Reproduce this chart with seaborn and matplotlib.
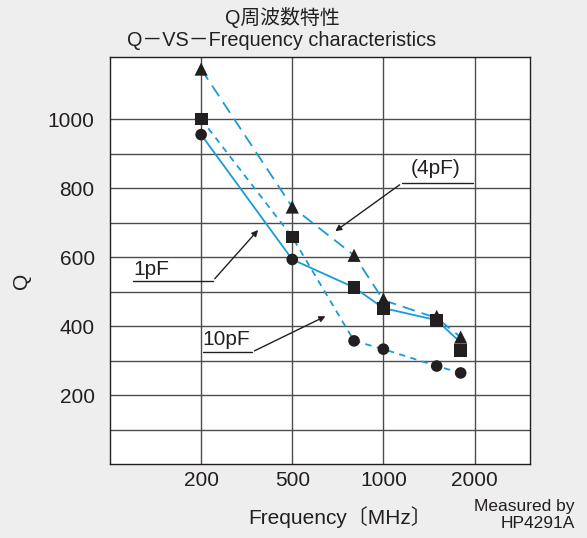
import numpy as np
import matplotlib
matplotlib.use("Agg")
import matplotlib.pyplot as plt
import seaborn as sns

sns.set_theme(style="white")
plt.rcParams['font.family'] = ['Liberation Sans', 'Noto Sans CJK JP', 'DejaVu Sans']

# data
freq = [200, 500, 800, 1000, 1500, 1800]
q_1pf = [955, 593, 512, 452, 417, 352]      # solid line
q_4pf = [1145, 745, 605, 475, 423, 368]     # long dashes
q_10pf = [1000, 658, 357, 333, 284, 264]    # short dashes

circ_f = [200, 500, 800, 1000, 1500, 1800]
circ_q = [955, 593, 357, 333, 284, 264]
sq_f = [200, 500, 800, 1000, 1500, 1800]
sq_q = [1000, 658, 512, 450, 417, 328]
tri_f = [200, 500, 800, 1000, 1500, 1800]
tri_q = [1145, 745, 605, 478, 428, 368]

x_ticks = [200, 500, 1000, 2000]
y_ticks = [200, 400, 600, 800, 1000]

blue = '#1a9bd7'
ink = '#231f20'

# axis drawn with equal spacing between 200/500/1000/2000 (log inside each step)
knots = np.log([100, 200, 500, 1000, 2000, 4000])
steps = [-1, 0, 1, 2, 3, 4]

def fwd(x):
    return np.interp(np.log(np.clip(x, 1e-9, None)), knots, steps)

def inv(p):
    return np.exp(np.interp(p, steps, knots))

fig = plt.figure(figsize=(5.87, 5.38), dpi=100)
fig.patch.set_facecolor('#eeeeee')
ax = fig.add_axes([110/587, 74/538, 420/587, 407/538])
ax.set_facecolor('white')
ax.set_xscale('function', functions=(fwd, inv))

sns.lineplot(x=freq, y=q_1pf, ax=ax, color=blue, lw=1.3)
sns.lineplot(x=freq, y=q_4pf, ax=ax, color=blue, lw=1.3)
ax.lines[-1].set_dashes([7, 4])
sns.lineplot(x=freq, y=q_10pf, ax=ax, color=blue, lw=1.3)
ax.lines[-1].set_dashes([3.5, 3])

sns.scatterplot(x=circ_f, y=circ_q, ax=ax, marker='o', s=70, color=ink, edgecolor='none', zorder=5)
sns.scatterplot(x=sq_f, y=sq_q, ax=ax, marker='s', s=85, color=ink, edgecolor='none', zorder=5)
sns.scatterplot(x=tri_f, y=tri_q, ax=ax, marker='^', s=90, color=ink, edgecolor='none', zorder=5)

ax.set_xlim(100, 3050)
ax.set_ylim(0, 1180)
ax.set_xticks(x_ticks)
ax.set_xticklabels([str(v) for v in x_ticks])
ax.xaxis.set_minor_locator(matplotlib.ticker.NullLocator())
ax.set_yticks(y_ticks)
for v in x_ticks:
    ax.axvline(v, color='#4d4d4d', lw=1.0, zorder=1)
for v in range(100, 1100, 100):
    ax.axhline(v, color='#4d4d4d', lw=1.0, zorder=1)
ax.tick_params(axis='both', length=0, labelsize=15, colors=ink)
ax.tick_params(axis='x', pad=5)
ax.tick_params(axis='y', pad=11)
for s in ax.spines.values():
    s.set_visible(True)
    s.set_color(ink)
    s.set_linewidth(1.0)
ax.set_xlabel('')
ax.set_ylabel('')

# annotations
arrow = dict(arrowstyle='-|>', color=ink, lw=1.0, mutation_scale=9)
ax.text(0.776, 0.725, '(4pF)', transform=ax.transAxes, ha='center', va='center', fontsize=15, color=ink)
ax.plot([0.695, 0.864], [0.690, 0.690], transform=ax.transAxes, color=ink, lw=1.0)
ax.annotate('', xy=(0.531, 0.568), xytext=(0.695, 0.690), xycoords='axes fraction',
            textcoords='axes fraction', arrowprops=arrow)

ax.text(0.055, 0.477, '1pF', transform=ax.transAxes, ha='left', va='center', fontsize=15, color=ink)
ax.plot([0.055, 0.245], [0.450, 0.450], transform=ax.transAxes, color=ink, lw=1.0)
ax.annotate('', xy=(0.357, 0.580), xytext=(0.245, 0.450), xycoords='axes fraction',
            textcoords='axes fraction', arrowprops=arrow)

ax.text(0.221, 0.305, '10pF', transform=ax.transAxes, ha='left', va='center', fontsize=15, color=ink)
ax.plot([0.221, 0.338], [0.275, 0.275], transform=ax.transAxes, color=ink, lw=1.0)
ax.annotate('', xy=(0.519, 0.366), xytext=(0.338, 0.275), xycoords='axes fraction',
            textcoords='axes fraction', arrowprops=arrow)

fig.text(282/587, 1 - 17/538, 'Q周波数特性', ha='center', va='center', fontsize=14.3, color=ink)
fig.text(282/587, 1 - 41/538, 'Q－VS－Frequency characteristics', ha='center', va='center', fontsize=14.3, color=ink)
fig.text(340/587, 1 - 517/538, 'Frequency〔MHz〕', ha='center', va='center', fontsize=15, color=ink)
fig.text(21/587, 1 - 281/538, 'Q', ha='center', va='center', rotation=90, fontsize=15, color=ink)
fig.text(575/587, 1 - 506/538, 'Measured by', ha='right', va='center', fontsize=12.5, color=ink)
fig.text(575/587, 1 - 524/538, 'HP4291A', ha='right', va='center', fontsize=12.5, color=ink)

fig.savefig('out.png', dpi=100, facecolor=fig.get_facecolor())
